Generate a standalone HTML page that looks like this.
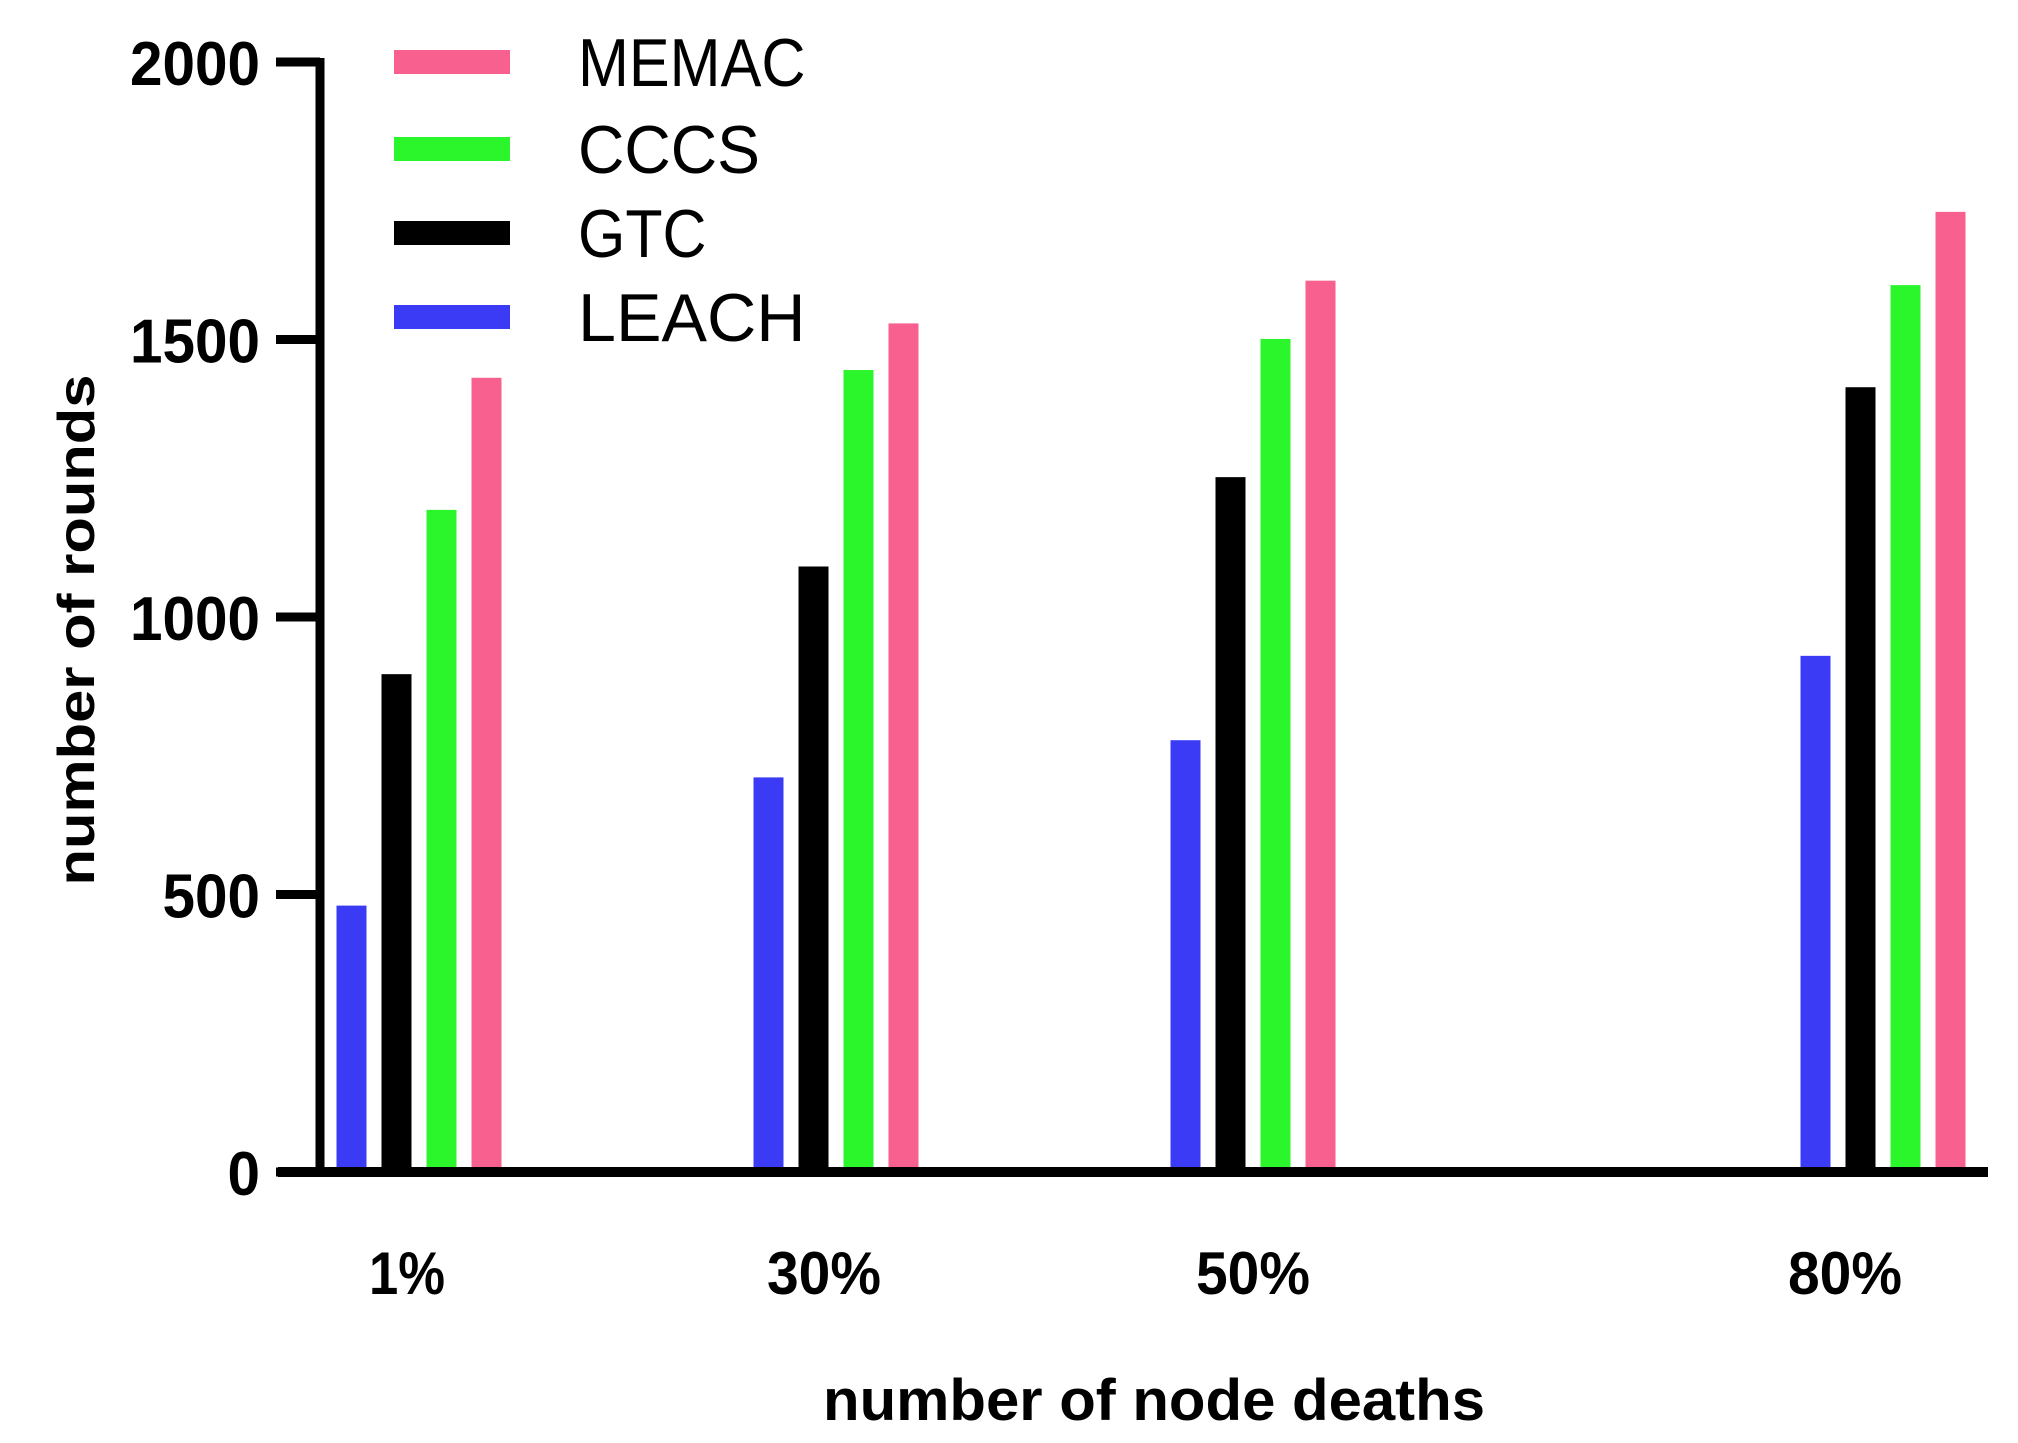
<!DOCTYPE html>
<html><head><meta charset="utf-8"><style>
html,body{margin:0;padding:0;background:#fff;}
svg{display:block;}
</style></head><body>
<svg id="chart" width="2018" height="1443" viewBox="0 0 2018 1443" xmlns="http://www.w3.org/2000/svg" font-family="'Liberation Sans', sans-serif">
<g id="bars"></g>
<g id="axes"></g>
<g id="legend"></g>
<text transform="translate(94,630) rotate(-90)" text-anchor="middle" font-size="52" font-weight="bold" textLength="511" lengthAdjust="spacingAndGlyphs">number of rounds</text>
<text x="1154" y="1420" text-anchor="middle" font-size="58" font-weight="bold" textLength="662" lengthAdjust="spacingAndGlyphs">number of node deaths</text>
</svg>
<script>
const categories = ['1%', '30%', '50%', '80%'];
const seriesNames = ['LEACH', 'GTC', 'CCCS', 'MEMAC'];
const leach = [480, 711, 778, 930];
const gtc = [897, 1091, 1252, 1414];
const cccs = [1193, 1445, 1501, 1598];
const memac = [1431, 1529, 1606, 1730];
const yTicks = [0, 500, 1000, 1500, 2000];
const groupPos = [0, 1, 2, 3.5];

const NS = 'http://www.w3.org/2000/svg';
const colors = ['#3b3bf5', '#000000', '#2bf52b', '#f7608f'];
const series = [leach, gtc, cccs, memac];
const y0 = 1172, y2000 = 62;
function yScale(v){ return y0 - (v/2000)*(y0 - y2000); }
function xScale(p){ return 419 + p*(836-419) + (p>2 ? (p-2)*((1885-1255)/1.5-(836-419)) : 0); }
function mk(tag, attrs, parent){ const e=document.createElementNS(NS,tag); for(const k in attrs) e.setAttribute(k,attrs[k]); parent.appendChild(e); return e; }

const bars = document.getElementById('bars');
const bw = 30, pitch = 45;
categories.forEach((c, i) => {
  const cx = xScale(groupPos[i]);
  series.forEach((s, j) => {
    const x = cx + (j - 1.5)*pitch - bw/2;
    const r = mk('rect', {x: x, y: yScale(s[i]), width: bw, height: y0 - yScale(s[i]), fill: colors[j]}, bars);
    
    
  });
  const lx = i === 3 ? cx - 38 : (i === 2 ? cx : cx - 12);
  const t = mk('text', {x: lx, y: 1294, 'text-anchor': 'middle', 'font-size': 60, 'font-weight': 'bold', textLength: c.length*38, lengthAdjust: 'spacingAndGlyphs'}, bars);
  t.textContent = c;
  
  
});

const axes = document.getElementById('axes');
const ya = mk('line', {x1: 320, y1: y2000 - 4, x2: 320, y2: y0 + 5, stroke: '#000', 'stroke-width': 9}, axes);


const xa = mk('line', {x1: 278, y1: y0, x2: 1988, y2: y0, stroke: '#000', 'stroke-width': 10}, axes);


yTicks.forEach(v => {
  const y = yScale(v);
  const tk = mk('line', {x1: 276, y1: y, x2: 320, y2: y, stroke: '#000', 'stroke-width': 9}, axes);
  
  
  const lbl = String(v);
  const t = mk('text', {x: 260, y: y + 23, 'text-anchor': 'end', 'font-size': 62, 'font-weight': 'bold', textLength: lbl.length*32.5, lengthAdjust: 'spacingAndGlyphs'}, axes);
  t.textContent = lbl;
  
  
});

const legend = document.getElementById('legend');
const legOrder = [3, 2, 1, 0];
const legY = [62, 149, 233, 317];
legOrder.forEach((j, k) => {
  const sw = mk('rect', {x: 394, y: legY[k] - 12, width: 116, height: 24, fill: colors[j]}, legend);
  
  
  const t = mk('text', {x: 578, y: legY[k] + 24, 'font-size': 68, textLength: seriesNames[j].length*45.5 - (seriesNames[j]==='GTC'?8:0), lengthAdjust: 'spacingAndGlyphs'}, legend);
  t.textContent = seriesNames[j];
  
  
});
</script>
</body></html>
